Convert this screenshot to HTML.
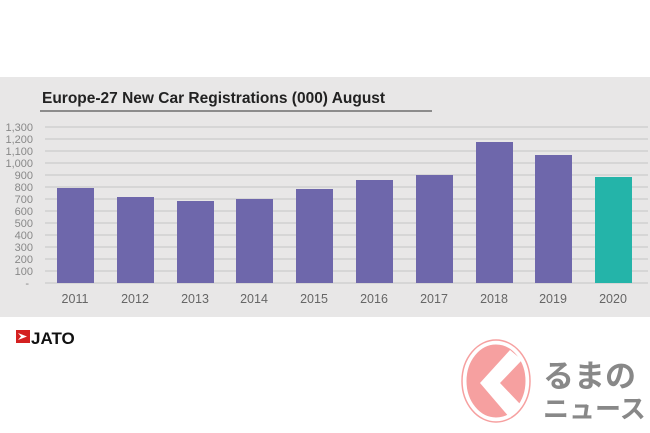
<!DOCTYPE html>
<html><head><style>
body{margin:0;width:650px;height:433px;background:#fff;position:relative;overflow:hidden;font-family:"Liberation Sans",sans-serif}
</style></head><body>
<svg width="650" height="433" style="position:absolute;left:0;top:0">
<rect x="0" y="77" width="650" height="240" fill="#e8e7e7"/>
<text x="42" y="103" font-size="15.5" font-weight="bold" fill="#222">Europe-27 New Car Registrations (000) August</text>
<line x1="40" y1="111" x2="432" y2="111" stroke="#555" stroke-width="1.2"/>
<g stroke="#c4c4c4" stroke-width="1">
<line x1="45" x2="648" y1="127" y2="127"/><line x1="45" x2="648" y1="139" y2="139"/><line x1="45" x2="648" y1="151" y2="151"/><line x1="45" x2="648" y1="163" y2="163"/><line x1="45" x2="648" y1="175" y2="175"/><line x1="45" x2="648" y1="187" y2="187"/><line x1="45" x2="648" y1="199" y2="199"/><line x1="45" x2="648" y1="211" y2="211"/><line x1="45" x2="648" y1="223" y2="223"/><line x1="45" x2="648" y1="235" y2="235"/><line x1="45" x2="648" y1="247" y2="247"/><line x1="45" x2="648" y1="259" y2="259"/><line x1="45" x2="648" y1="271" y2="271"/><line x1="45" x2="648" y1="283" y2="283"/>
</g>
<g font-size="11" fill="#888" text-anchor="end">
<text x="33" y="131">1,300</text><text x="33" y="143">1,200</text><text x="33" y="155">1,100</text><text x="33" y="167">1,000</text><text x="33" y="179">900</text><text x="33" y="191">800</text><text x="33" y="203">700</text><text x="33" y="215">600</text><text x="33" y="227">500</text><text x="33" y="239">400</text><text x="33" y="251">300</text><text x="33" y="263">200</text><text x="33" y="275">100</text><text x="29" y="287">-</text>
</g>
<g fill="#6e67ab">
<rect x="57" y="188" width="37" height="95"/>
<rect x="117" y="197" width="37" height="86"/>
<rect x="177" y="201" width="37" height="82"/>
<rect x="236" y="199" width="37" height="84"/>
<rect x="296" y="189" width="37" height="94"/>
<rect x="356" y="180" width="37" height="103"/>
<rect x="416" y="175" width="37" height="108"/>
<rect x="476" y="142" width="37" height="141"/>
<rect x="535" y="155" width="37" height="128"/>
</g>
<rect x="595" y="177" width="37" height="106" fill="#24b4a9"/>
<g font-size="12.5" fill="#666" text-anchor="middle">
<text x="75" y="303">2011</text><text x="135" y="303">2012</text><text x="195" y="303">2013</text><text x="254" y="303">2014</text><text x="314" y="303">2015</text><text x="374" y="303">2016</text><text x="434" y="303">2017</text><text x="494" y="303">2018</text><text x="553" y="303">2019</text><text x="613" y="303">2020</text>
</g>
<rect x="16" y="330" width="14" height="13" fill="#d42020"/>
<path d="M18 333 L27 336.5 L18 340 L21 336.5Z" fill="#fff"/>
<text x="31" y="344" font-size="17" font-weight="bold" fill="#111">JATO</text>
<ellipse cx="496" cy="381" rx="31" ry="38" fill="#f6a0a0" stroke="#fff" stroke-width="3"/>
<ellipse cx="496" cy="381" rx="34" ry="41" fill="none" stroke="#f6a0a0" stroke-width="1.5"/>
<path d="M510 350 L480 383 L510 418 L520 404 L500 383 L522 360Z" fill="#fff"/>
<text x="543" y="387" font-size="31" font-weight="bold" fill="#888" font-family="'Noto Sans CJK JP',sans-serif">るまの</text>
<text x="543" y="418" font-size="26" font-weight="bold" fill="#888" font-family="'Noto Sans CJK JP',sans-serif">ニュース</text>
</svg>
</body></html>
